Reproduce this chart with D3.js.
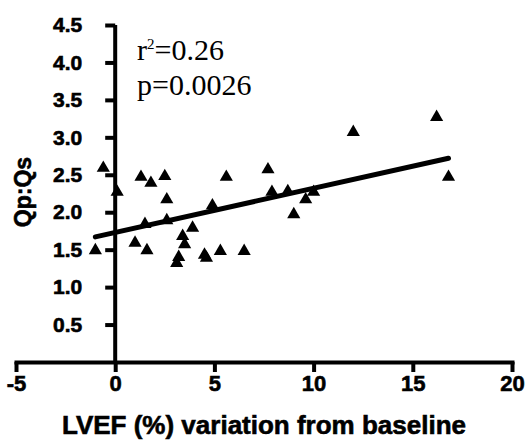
<!DOCTYPE html>
<html>
<head>
<meta charset="utf-8">
<script src="https://cdn.jsdelivr.net/npm/d3@7"></script>
<style>
  body { margin: 0; background: #fff; }
  svg { display: block; }
  .heavy { stroke: #000; stroke-width: 0.6px; }
</style>
</head>
<body>
<script>
const width = 531;
const height = 443;

// LVEF variation (%) vs Qp:Qs
const lvef = [-0.6, -1.0, 0.1, 1.0, 1.3, 1.5, 1.6, 1.8, 2.5, 2.6, 2.6, 3.1, 3.2, 3.4, 3.5, 3.9,
  4.5, 4.6, 4.9, 5.3, 5.6, 6.5, 7.7, 7.9, 8.7, 9.0, 9.6, 10.0, 12.0, 16.2, 16.8];
const qpqs = [2.59, 1.49, 2.27, 1.59, 2.47, 1.84, 1.49, 2.39, 2.48, 2.17, 1.89, 1.32, 1.40, 1.68, 1.57, 1.79,
  1.43, 1.39, 2.09, 1.48, 2.47, 1.48, 2.57, 2.27, 2.28, 1.97, 2.17, 2.27, 3.07, 3.27, 2.47];

const xTicks = [-5, 0, 5, 10, 15, 20];
const yTicks = [0.5, 1.0, 1.5, 2.0, 2.5, 3.0, 3.5, 4.0, 4.5];

// fitted line
const fitX = [-1.0, 16.8];
const intercept = 1.73;
const slope = 0.059;

const svg = d3.select('body').append('svg')
  .attr('width', width)
  .attr('height', height);

const x = d3.scaleLinear().domain([-5, 20]).range([16, 512]);
const y = d3.scaleLinear().domain([0, 4.5]).range([362, 25]);

const bold = 'Arial, "Liberation Sans", sans-serif';

// x axis
const xAxis = svg.append('g')
  .attr('transform', `translate(0,${y(0)})`)
  .call(d3.axisBottom(x).tickValues(xTicks).tickSize(10).tickSizeOuter(0).tickPadding(3)
    .tickFormat(d => String(d)));
xAxis.select('.domain').attr('stroke-width', 4).attr('stroke-linecap', 'square');
xAxis.selectAll('.tick line').attr('stroke-width', 4);
xAxis.selectAll('.tick text')
  .attr('class', 'heavy')
  .style('font-family', bold).style('font-weight', 'bold').style('font-size', '22px')
  .attr('fill', '#000');

// y axis
const yAxis = svg.append('g')
  .attr('transform', `translate(${x(0)},0)`)
  .call(d3.axisLeft(y).tickValues(yTicks).tickSize(10).tickSizeOuter(0).tickPadding(23)
    .tickFormat(d3.format('.1f')));
yAxis.select('.domain').attr('stroke-width', 4).attr('d', `M0,${y(4.5)}V${y(0)}`);
yAxis.selectAll('.tick line').attr('stroke-width', 4);
yAxis.selectAll('.tick text')
  .attr('class', 'heavy')
  .style('font-family', bold).style('font-weight', 'bold').style('font-size', '21px')
  .attr('fill', '#000');

// regression line
svg.append('line')
  .attr('x1', x(fitX[0])).attr('y1', y(intercept + slope * fitX[0]))
  .attr('x2', x(fitX[1])).attr('y2', y(intercept + slope * fitX[1]))
  .attr('stroke', '#000').attr('stroke-width', 5).attr('stroke-linecap', 'round');

// points
const tri = d3.symbol().type(d3.symbolTriangle).size(75);
svg.append('g').selectAll('path')
  .data(lvef.map((d, i) => [d, qpqs[i]]))
  .enter().append('path')
  .attr('d', tri)
  .attr('transform', d => `translate(${x(d[0])},${y(d[1])})`)
  .attr('fill', '#000');

// stats
const stats = svg.append('g')
  .style('font-family', '"Times New Roman", "Liberation Serif", serif')
  .style('font-size', '30px');
const r2 = stats.append('text').attr('x', 137).attr('y', 60);
r2.append('tspan').text('r');
r2.append('tspan').text('2').style('font-size', '15px').attr('dy', -11);
r2.append('tspan').text('=0.26').attr('dy', 11);
stats.append('text').attr('x', 137).attr('y', 95).text('p=0.0026');

// axis titles
svg.append('text')
  .attr('class', 'heavy')
  .attr('x', 264).attr('y', 434)
  .attr('text-anchor', 'middle')
  .style('font-family', bold).style('font-weight', 'bold').style('font-size', '26px')
  .text('LVEF (%) variation from baseline');

svg.append('text')
  .attr('class', 'heavy')
  .attr('transform', 'translate(31,192) rotate(-90)')
  .attr('text-anchor', 'middle')
  .style('font-family', bold).style('font-weight', 'bold').style('font-size', '23px')
  .text('Qp:Qs');
</script>
</body>
</html>
